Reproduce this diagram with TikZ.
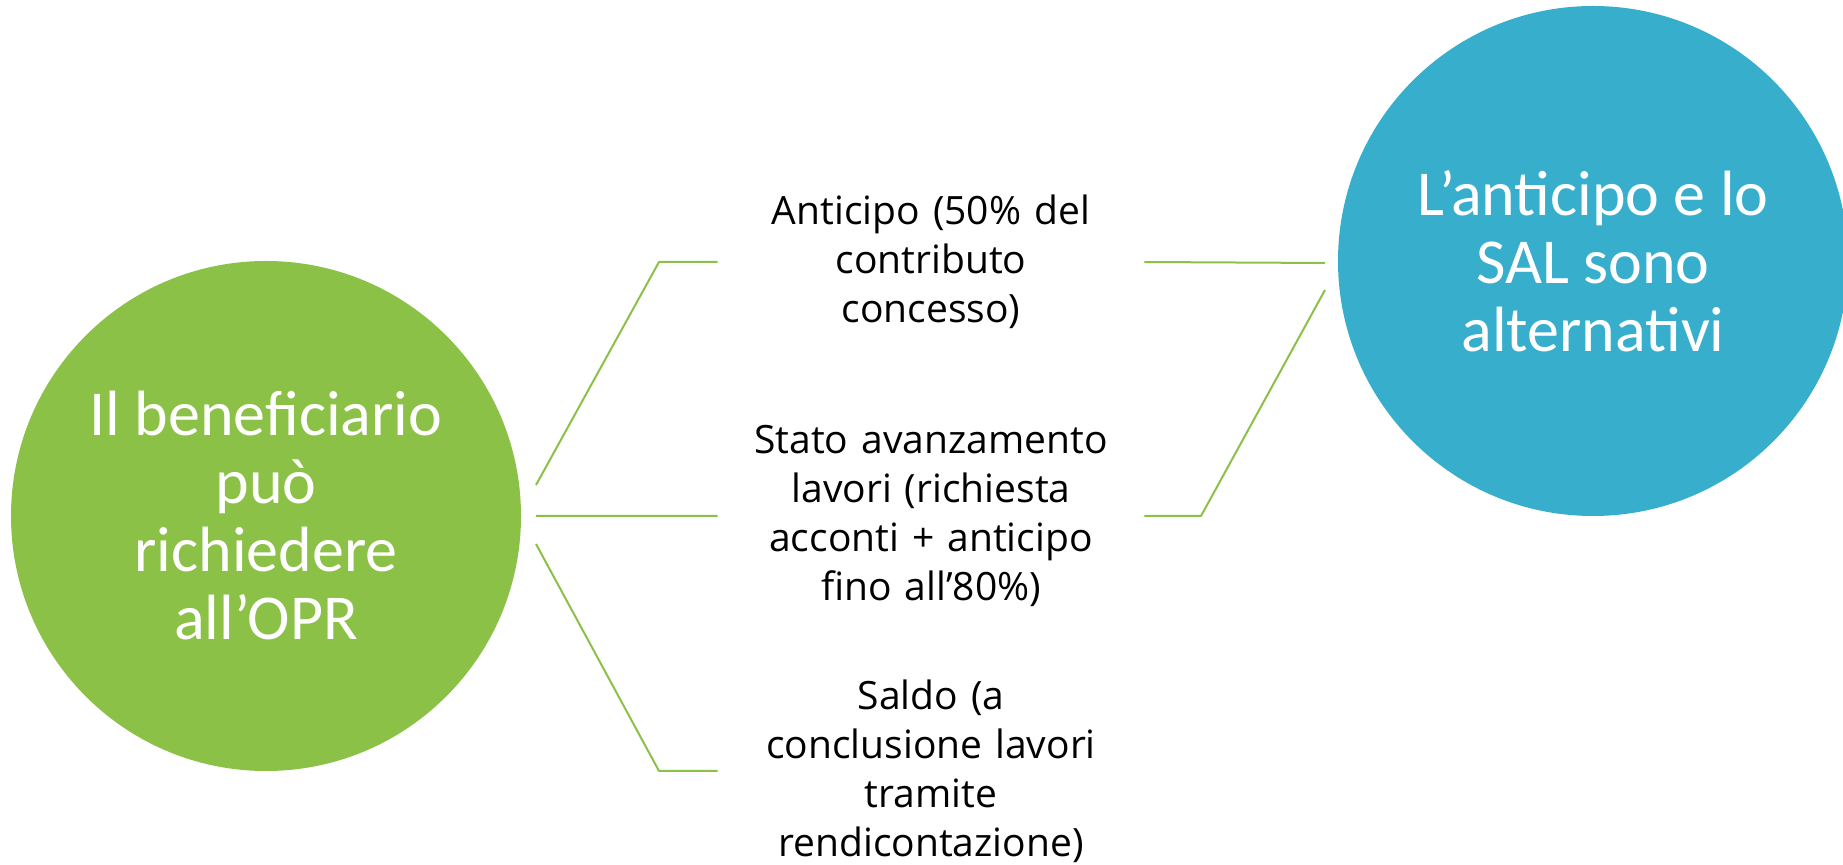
\documentclass[tikz,border=0pt]{standalone}
\usepackage{fontspec}
\setmainfont{Open Sans}
\newfontfamily\bollafont{Carlito}
\definecolor{verde}{RGB}{139,193,71}
\definecolor{azzurro}{RGB}{56,174,205}
\begin{document}
\begin{tikzpicture}[
    x=0.5pt, y=-0.5pt,
    bolla/.style = {circle, minimum size=255pt, inner sep=0pt, text=white,
      align=center, font=\bollafont\fontsize{32}{34}\selectfont},
    voce/.style = {text width=213pt, inner sep=0pt, align=center,
      font=\fontsize{19.5}{24.5}\selectfont},
    ramo/.style = {verde, line width=1pt}
  ]
    \useasboundingbox (0,0) rectangle (1843,865);
    % circles
    \node[bolla, fill=verde] (B) at (266,516)
      {Il beneficiario\\può\\richiedere\\all’OPR};
    \node[bolla, fill=azzurro] (A) at (1593,261)
      {L’anticipo e lo\\SAL sono\\alternativi};
    % voci
    \node[voce] (V1) at (931,262)
      {Anticipo (50\% del\\contributo\\concesso)};
    \node[voce] (V2) at (931,516)
      {Stato avanzamento\\lavori (richiesta\\acconti + anticipo\\fino all’80\%)};
    \node[voce] (V3) at (931,771)
      {Saldo (a\\conclusione lavori\\tramite\\rendicontazione)};
    % define points
    \path
      (536,485) coordinate(S1)
      (536,516) coordinate(S2)
      (536,544) coordinate(S3)
      (659,262) coordinate(G1)
      (659,771) coordinate(G3)
      (1325,263) coordinate(T1)
      (1201,516) coordinate(G4)
      (1325,290) coordinate(T2)
    ;
    % draw lines
    \draw[ramo]
      (S1) -- (G1) -- (V1.west)
      (S2) -- (V2.west)
      (S3) -- (G3) -- (V3.west)
      (V1.east) -- (T1)
      (V2.east) -- (G4) -- (T2)
    ;
  \end{tikzpicture}
\end{document}
